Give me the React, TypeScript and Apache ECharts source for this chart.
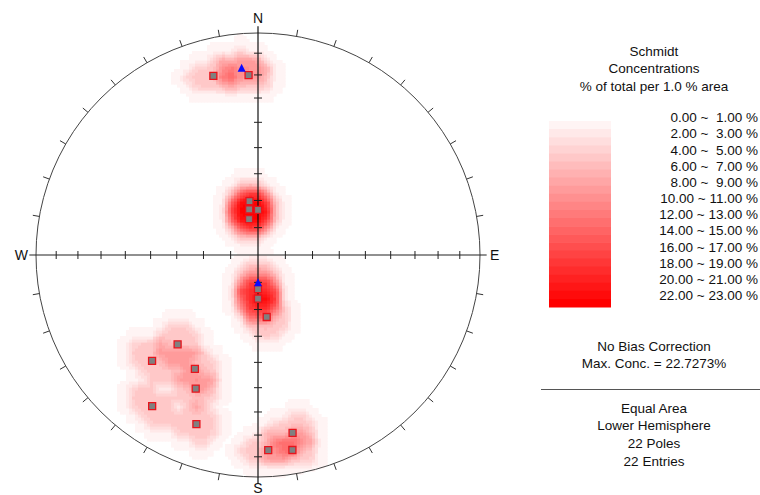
import React, { useEffect, useRef } from "react";
import * as echarts from "echarts";

// Poles shown as squares (trend °, plunge °), lower hemisphere
const squareTrends = [346, 357, 351, 349, 0, 346, 180, 180, 172, 222, 225, 209, 205, 215, 200, 169, 177, 170, 349, 180];
const squarePlunges = [18, 20, 70, 73, 73.5, 76.5, 77.5, 74, 67, 45, 33, 41, 34, 18, 20, 19.5, 13, 11.8, 73, 74];
// Poles shown as triangles
const triangleTrends = [355, 180];
const trianglePlunges = [16.5, 80];

// Legend levels
const legendLabels = [
  "0.00 ~  1.00 %",
  "2.00 ~  3.00 %",
  "4.00 ~  5.00 %",
  "6.00 ~  7.00 %",
  "8.00 ~  9.00 %",
  "10.00 ~ 11.00 %",
  "12.00 ~ 13.00 %",
  "14.00 ~ 15.00 %",
  "16.00 ~ 17.00 %",
  "18.00 ~ 19.00 %",
  "20.00 ~ 21.00 %",
  "22.00 ~ 23.00 %",
];
const levelCount = 23;
const rimTickAzimuths = [10, 20, 30, 40, 50, 60, 70, 80, 100, 110, 120, 130, 140, 150, 160, 170, 190, 200, 210, 220, 230, 240, 250, 260, 280, 290, 300, 310, 320, 330, 340, 350];
const axisTickPlunges = [10, 20, 30, 40, 50, 60, 70, 80];
const infoTop = ["Schmidt", "Concentrations", "% of total per 1.0 % area"];
const infoMid = ["No Bias Correction", "Max. Conc. = 22.7273%"];
const infoBottom = ["Equal Area", "Lower Hemisphere", "22 Poles", "22 Entries"];

const FONT = "'Liberation Sans', Arial, sans-serif";
const D2R = Math.PI / 180;

function project(trend: number, plunge: number): [number, number] {
  const t = trend * D2R;
  const p = plunge * D2R;
  const r = Math.SQRT2 * Math.sin((Math.PI / 2 - p) / 2);
  return [r * Math.sin(t), r * Math.cos(t)];
}
function vec(trend: number, plunge: number): number[] {
  const t = trend * D2R;
  const p = plunge * D2R;
  return [Math.cos(p) * Math.sin(t), Math.cos(p) * Math.cos(t), Math.sin(p)];
}
function vecFromXY(X: number, Y: number): number[] {
  let rho = Math.hypot(X, Y);
  if (rho > 1) {
    X /= rho;
    Y /= rho;
    rho = 1;
  }
  const theta = 2 * Math.asin(Math.min(1, rho / Math.SQRT2));
  const plunge = Math.PI / 2 - theta;
  const trend = Math.atan2(X, Y);
  return [Math.cos(plunge) * Math.sin(trend), Math.cos(plunge) * Math.cos(trend), Math.sin(plunge)];
}
function levelColor(k: number): string {
  const g = Math.round(255 * (1 - (k + 1) / levelCount));
  return `rgb(255,${g},${g})`;
}

const CELL_N = 148;
const CELL = 2 / CELL_N;

function buildDensity(): number[][] {
  const trends = [...squareTrends, ...triangleTrends];
  const plunges = [...squarePlunges, ...trianglePlunges];
  const total = trends.length;
  const poles = trends.map((t, i) => vec(t, plunges[i]));
  const cosA = 0.99; // 1% area counting cone
  const N = 50;
  const h = 2 / N;
  const raw: number[][] = [];
  for (let i = 0; i <= N; i++) {
    const row: number[] = [];
    for (let j = 0; j <= N; j++) {
      const n = vecFromXY(-1 + i * h, -1 + j * h);
      let c = 0;
      for (const v of poles) {
        const d = Math.abs(n[0] * v[0] + n[1] * v[1] + n[2] * v[2]);
        if (d >= cosA) c++;
      }
      row.push((c / total) * 100);
    }
    raw.push(row);
  }
  // light smoothing of the node grid
  const nodes: number[][] = raw.map((row, i) =>
    row.map((v, j) => {
      const g = (a: number, b: number) => (raw[a] && raw[a][b] !== undefined ? raw[a][b] : v);
      return 0.64 * v + 0.09 * (g(i - 1, j) + g(i + 1, j) + g(i, j - 1) + g(i, j + 1));
    })
  );
  const out: number[][] = [];
  for (let a = 0; a < CELL_N; a++) {
    for (let b = 0; b < CELL_N; b++) {
      const X = -1 + (a + 0.5) * CELL;
      const Y = -1 + (b + 0.5) * CELL;
      if (X * X + Y * Y > 1) continue;
      const fi = (X + 1) / h;
      const fj = (Y + 1) / h;
      const i0 = Math.min(N - 1, Math.floor(fi));
      const j0 = Math.min(N - 1, Math.floor(fj));
      const fx = fi - i0;
      const fy = fj - j0;
      const v =
        nodes[i0][j0] * (1 - fx) * (1 - fy) +
        nodes[i0 + 1][j0] * fx * (1 - fy) +
        nodes[i0][j0 + 1] * (1 - fx) * fy +
        nodes[i0 + 1][j0 + 1] * fx * fy;
      if (v < 0.05) continue;
      out.push([X, Y, v]);
    }
  }
  return out;
}

export default function App() {
  const ref = useRef<HTMLDivElement>(null);
  useEffect(() => {
    document.body.style.margin = "0";
    if (!ref.current) return;
    const chart = echarts.init(ref.current, undefined, { renderer: "svg" });
    const density = buildDensity();
    const squares = squareTrends.map((t, i) => project(t, squarePlunges[i]));
    const triangles = triangleTrends.map((t, i) => project(t, trianglePlunges[i]));

    const barX = 549, barY = 121, barW = 62, barH = 186;
    const stripeH = barH / levelCount;
    const graphics: any[] = [];
    for (let k = 0; k < levelCount; k++) {
      graphics.push({
        type: "rect",
        shape: { x: barX, y: barY + k * stripeH, width: barW, height: stripeH + 0.5 },
        style: { fill: levelColor(k) },
      });
    }
    legendLabels.forEach((s, i) => {
      graphics.push({
        type: "text",
        x: 758,
        y: 117.7 + i * 16.18,
        style: { text: s, fill: "#111", font: `13.5px ${FONT}`, align: "right", verticalAlign: "middle" },
      });
    });
    const center = (arr: string[], y0: number, step: number) =>
      arr.forEach((s, i) =>
        graphics.push({
          type: "text",
          x: 654,
          y: y0 + i * step,
          style: { text: s, fill: "#111", font: `13.5px ${FONT}`, align: "center", verticalAlign: "middle" },
        })
      );
    center(infoTop, 51, 17.5);
    center(infoMid, 346, 17);
    center(infoBottom, 408, 17.7);
    graphics.push({
      type: "line",
      shape: { x1: 541, y1: 389.5, x2: 760, y2: 389.5 },
      style: { stroke: "#555", lineWidth: 1 },
    });

    chart.setOption({
      animation: false,
      grid: { left: 36, top: 33, width: 444, height: 444, outerBoundsMode: "none" },
      xAxis: { type: "value", min: -1, max: 1, show: false },
      yAxis: { type: "value", min: -1, max: 1, show: false },
      graphic: graphics,
      series: [
        {
          type: "custom",
          data: density,
          silent: true,
          z: 1,
          renderItem: (params: any, api: any) => {
            const x = api.value(0);
            const y = api.value(1);
            const v = api.value(2);
            const k = Math.max(0, Math.min(levelCount - 1, Math.floor(v)));
            const p = api.coord([x - CELL / 2, y + CELL / 2]);
            const s = api.size([CELL, CELL]);
            return {
              type: "rect",
              shape: { x: p[0], y: p[1], width: s[0] + 0.6, height: s[1] + 0.6 },
              style: { fill: levelColor(k) },
            };
          },
        },
        {
          type: "custom",
          data: [[0, 0]],
          silent: true,
          z: 2,
          renderItem: (params: any, api: any) => {
            const c = api.coord([0, 0]);
            const R = api.size([1, 1])[0];
            const children: any[] = [];
            children.push({
              type: "circle",
              shape: { cx: c[0], cy: c[1], r: R },
              style: { fill: "none", stroke: "#444", lineWidth: 1 },
            });
            const ext = 1.03;
            children.push({
              type: "line",
              shape: { x1: c[0] - R * ext, y1: c[1], x2: c[0] + R * ext, y2: c[1] },
              style: { stroke: "#222", lineWidth: 1.2 },
            });
            children.push({
              type: "line",
              shape: { x1: c[0], y1: c[1] - R * ext, x2: c[0], y2: c[1] + R * ext },
              style: { stroke: "#111", lineWidth: 1.2 },
            });
            rimTickAzimuths.forEach((az) => {
              const a = az * D2R;
              children.push({
                type: "line",
                shape: {
                  x1: c[0] + R * Math.sin(a),
                  y1: c[1] - R * Math.cos(a),
                  x2: c[0] + R * 1.03 * Math.sin(a),
                  y2: c[1] - R * 1.03 * Math.cos(a),
                },
                style: { stroke: "#333", lineWidth: 1 },
              });
            });
            axisTickPlunges.forEach((pl) => {
              const r = Math.SQRT2 * Math.sin(((90 - pl) * D2R) / 2) * R;
              const t = 4;
              [-1, 1].forEach((sgn) => {
                children.push({
                  type: "line",
                  shape: { x1: c[0] + sgn * r, y1: c[1] - t, x2: c[0] + sgn * r, y2: c[1] + t },
                  style: { stroke: "#222", lineWidth: 1 },
                });
                children.push({
                  type: "line",
                  shape: { x1: c[0] - t, y1: c[1] + sgn * r, x2: c[0] + t, y2: c[1] + sgn * r },
                  style: { stroke: "#222", lineWidth: 1 },
                });
              });
            });
            const L = 1.066 * R;
            const lab = (s: string, x: number, y: number) =>
              children.push({
                type: "text",
                x,
                y,
                style: { text: s, fill: "#111", font: `14px ${FONT}`, align: "center", verticalAlign: "middle" },
              });
            lab("N", c[0], c[1] - L);
            lab("S", c[0], c[1] + L - 4);
            lab("W", c[0] - L, c[1]);
            lab("E", c[0] + L, c[1]);
            return { type: "group", children };
          },
        },
        {
          type: "scatter",
          data: squares,
          symbol: "rect",
          symbolSize: 7,
          z: 3,
          silent: true,
          itemStyle: { color: "#808080", borderColor: "#e8141c", borderWidth: 1.3, opacity: 1 },
        },
        {
          type: "scatter",
          data: triangles,
          symbol: "triangle",
          symbolSize: 8,
          z: 4,
          silent: true,
          itemStyle: { color: "#0a0aff", opacity: 1 },
        },
      ],
    });
    return () => chart.dispose();
  }, []);
  return <div ref={ref} style={{ width: 760, height: 495 }} />;
}
